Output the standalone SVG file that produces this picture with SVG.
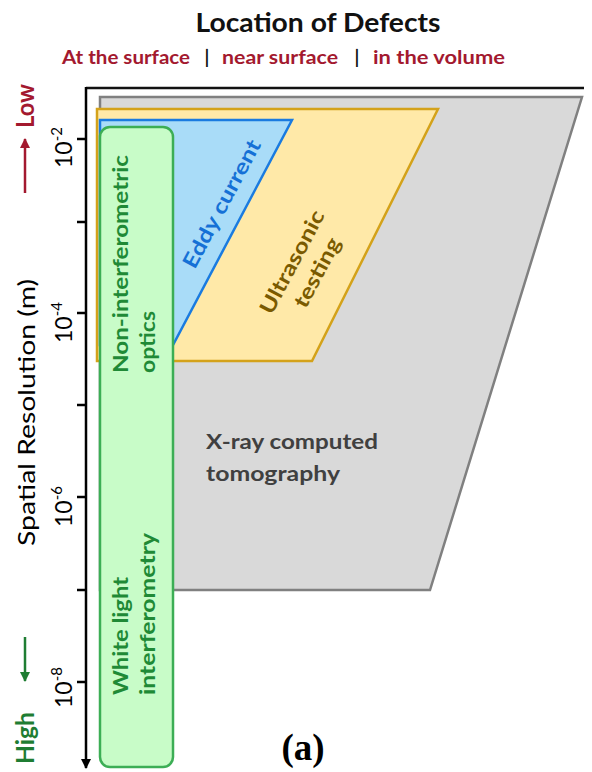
<svg xmlns="http://www.w3.org/2000/svg" width="592" height="772" viewBox="0 0 592 772">
  <style>
    .lbl { font-family: Lato, "Open Sans", "Liberation Sans", sans-serif; font-weight: 700; }
    .axis { font-family: Lato, "Open Sans", "Liberation Sans", sans-serif; font-weight: 400; fill: #000; }
    .tick { font-family: Lato, "Liberation Sans", Arial, sans-serif; font-size: 23px; fill: #000; }
    .sup { font-size: 15px; }
    .red { fill: #a3192f; }
    .grn { fill: #1f8a36; }
  </style>
  <defs>
    <marker id="ahBlack" viewBox="0 0 10 10" refX="9" refY="5" markerWidth="4" markerHeight="4" orient="auto">
      <path d="M0,0 L10,5 L0,10 z" fill="#000"/>
    </marker>
    <marker id="ahRed" viewBox="0 0 10 10" refX="9" refY="5" markerWidth="4" markerHeight="4" orient="auto">
      <path d="M0,0 L10,5 L0,10 z" fill="#a3192f"/>
    </marker>
    <marker id="ahGreen" viewBox="0 0 10 10" refX="9" refY="5" markerWidth="4" markerHeight="4" orient="auto">
      <path d="M0,0 L10,5 L0,10 z" fill="#1f7d33"/>
    </marker>
  </defs>

  <rect width="592" height="772" fill="#fff"/>

  <!-- header -->
  <text x="318" y="32" text-anchor="middle" class="lbl" font-size="26" fill="#111" textLength="245" lengthAdjust="spacingAndGlyphs">Location of Defects</text>
  <g class="lbl" font-size="18.5">
    <text x="62" y="64" class="red" textLength="128" lengthAdjust="spacingAndGlyphs">At the surface</text>
    <text x="207" y="64" text-anchor="middle" fill="#111">|</text>
    <text x="222" y="64" class="red" textLength="116" lengthAdjust="spacingAndGlyphs">near surface</text>
    <text x="357" y="64" text-anchor="middle" fill="#111">|</text>
    <text x="373" y="64" class="red" textLength="132" lengthAdjust="spacingAndGlyphs">in the volume</text>
  </g>

  <!-- X-ray computed tomography region -->
  <g id="xray">
    <polygon points="100,97 582,97 430,590 100,590" fill="#d9d9d9" stroke="#808080" stroke-width="2.5"/>
    <text class="lbl" font-size="21" fill="#404040">
      <tspan x="206" y="449" textLength="172" lengthAdjust="spacingAndGlyphs">X-ray computed</tspan>
      <tspan x="206" y="481" textLength="134" lengthAdjust="spacingAndGlyphs">tomography</tspan>
    </text>
  </g>

  <!-- Ultrasonic testing region -->
  <g id="ultrasonic">
    <polygon points="97,109 438,109 312,361 97,361" fill="#ffe9a8" stroke="#d4a21a" stroke-width="2.5"/>
    <g transform="translate(305,266) rotate(-62)">
      <text class="lbl" font-size="21" fill="#7a5a00" text-anchor="middle">
        <tspan x="0" y="-6" textLength="114" lengthAdjust="spacingAndGlyphs">Ultrasonic</tspan>
        <tspan x="0" y="21" textLength="76" lengthAdjust="spacingAndGlyphs">testing</tspan>
      </text>
    </g>
  </g>

  <!-- Eddy current region -->
  <g id="eddy">
    <polygon points="100,120 292,120 173,345 100,345" fill="#a9dcf8" stroke="#1a7be0" stroke-width="2.5"/>
    <g transform="translate(222,204) rotate(-62)">
      <text x="0" y="7" class="lbl" font-size="21" fill="#1570d6" text-anchor="middle" textLength="142" lengthAdjust="spacingAndGlyphs">Eddy current</text>
    </g>
  </g>

  <!-- optical methods column -->
  <g id="optics">
    <rect x="100" y="127" width="73" height="640" rx="10" ry="10" fill="#c8fcc8" stroke="#3cae55" stroke-width="2.5"/>
    <g transform="translate(128,373) rotate(-90)">
      <text x="0" y="0" class="lbl grn" font-size="21" textLength="218" lengthAdjust="spacingAndGlyphs">Non-interferometric</text>
      <text x="0" y="27" class="lbl grn" font-size="21" textLength="62" lengthAdjust="spacingAndGlyphs">optics</text>
    </g>
    <g transform="translate(128,695) rotate(-90)">
      <text x="0" y="0" class="lbl grn" font-size="21" textLength="118" lengthAdjust="spacingAndGlyphs">White light</text>
      <text x="0" y="27" class="lbl grn" font-size="21" textLength="162" lengthAdjust="spacingAndGlyphs">interferometry</text>
    </g>
  </g>

  <!-- axes -->
  <g id="connectors" fill="none">
    <line x1="86" y1="88" x2="584" y2="88" stroke="#111" stroke-width="2.5"/>
    <line x1="86" y1="87" x2="86" y2="768" stroke="#000" stroke-width="2.5" marker-end="url(#ahBlack)"/>
    <g stroke="#000" stroke-width="2.5">
      <line x1="77" y1="139" x2="86" y2="139"/>
      <line x1="77" y1="222" x2="86" y2="222"/>
      <line x1="77" y1="313" x2="86" y2="313"/>
      <line x1="77" y1="405" x2="86" y2="405"/>
      <line x1="77" y1="497" x2="86" y2="497"/>
      <line x1="77" y1="590" x2="86" y2="590"/>
      <line x1="77" y1="682" x2="86" y2="682"/>
    </g>
    <line x1="25" y1="193" x2="25" y2="139" stroke="#a3192f" stroke-width="2.5" marker-end="url(#ahRed)"/>
    <line x1="25" y1="637" x2="25" y2="681" stroke="#1f7d33" stroke-width="2.5" marker-end="url(#ahGreen)"/>
  </g>

  <!-- axis labels -->
  <g id="ticklabels">
    <text class="tick" transform="translate(72,168) rotate(-90)">10<tspan class="sup" dy="-10">-2</tspan></text>
    <text class="tick" transform="translate(72,343) rotate(-90)">10<tspan class="sup" dy="-10">-4</tspan></text>
    <text class="tick" transform="translate(72,527) rotate(-90)">10<tspan class="sup" dy="-10">-6</tspan></text>
    <text class="tick" transform="translate(72,708) rotate(-90)">10<tspan class="sup" dy="-10">-8</tspan></text>
  </g>
  <text class="axis" font-size="24" transform="translate(35,546) rotate(-90)" textLength="267" lengthAdjust="spacingAndGlyphs">Spatial Resolution (m)</text>
  <text class="lbl red" font-size="24" transform="translate(34,128) rotate(-90)" textLength="44" lengthAdjust="spacingAndGlyphs">Low</text>
  <text class="lbl" font-size="24" fill="#1f7d33" transform="translate(34,764) rotate(-90)" textLength="52" lengthAdjust="spacingAndGlyphs">High</text>

  <text x="303" y="760" text-anchor="middle" font-family="'Liberation Serif', 'Times New Roman', serif" font-weight="700" font-size="37" fill="#000">(a)</text>
</svg>
